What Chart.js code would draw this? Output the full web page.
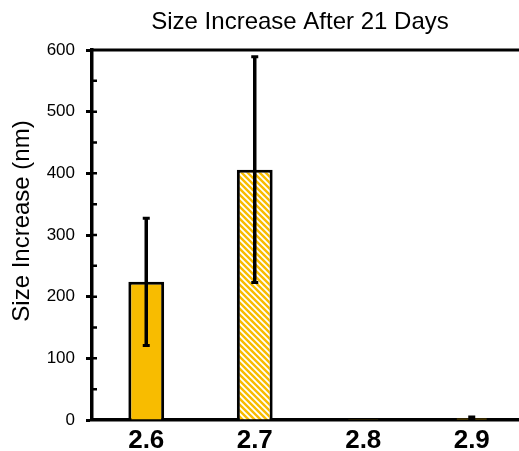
<!DOCTYPE html>
<html>
<head>
<meta charset="utf-8">
<style>
  html, body { margin: 0; padding: 0; background: #fff; overflow: hidden; }
  #wrap { width: 519px; height: 451px; overflow: hidden; }
  canvas { display: block; }
</style>
<script src="https://cdn.jsdelivr.net/npm/chart.js@4"></script>
</head>
<body>
<div id="wrap"><canvas id="c" width="527" height="451"></canvas></div>
<script>
const chartTitle = 'Size Increase After 21 Days';
const yAxisTitle = 'Size Increase (nm)';
const categories = ['2.6', '2.7', '2.8', '2.9'];
const sizeIncrease = [224, 406, 2, 3];
const sizeError = [103, 183, 0, 2];
const yTickLabels = ['0', '100', '200', '300', '400', '500', '600'];

const FONT = '"Liberation Sans", Arial, Helvetica, sans-serif';
const GOLD = '#F8BC00';

const canvas = document.getElementById('c');
const ctx = canvas.getContext('2d');

// diagonal white stripes on gold for the hatched bar
function hatchPattern(base) {
  const s = 6;
  const t = document.createElement('canvas');
  t.width = s; t.height = s;
  const g = t.getContext('2d');
  g.fillStyle = base;
  g.fillRect(0, 0, s, s);
  g.strokeStyle = '#fff';
  g.lineWidth = 1.8;
  g.beginPath();
  g.moveTo(-1, -1); g.lineTo(s + 1, s + 1);
  g.moveTo(-1, s - 1); g.lineTo(1, s + 1);
  g.moveTo(s - 1, -1); g.lineTo(s + 1, 1);
  g.stroke();
  return ctx.createPattern(t, 'repeat');
}

const barFills = [GOLD, hatchPattern(GOLD), GOLD, GOLD];

// mean ± error whiskers with short caps
const errorBars = {
  id: 'errorBars',
  afterDatasetsDraw(chart) {
    const c = chart.ctx;
    const y = chart.scales.y;
    const meta = chart.getDatasetMeta(0);
    c.save();
    c.strokeStyle = '#000';
    c.lineCap = 'butt';
    sizeIncrease.forEach((v, i) => {
      const e = sizeError[i];
      if (!e) return;
      const px = meta.data[i].x;
      const top = y.getPixelForValue(v + e);
      const bot = y.getPixelForValue(Math.max(v - e, 0));
      c.lineWidth = 3.5;
      c.beginPath();
      c.moveTo(px, top); c.lineTo(px, bot);
      c.stroke();
      c.lineWidth = 3;
      c.beginPath();
      c.moveTo(px - 3.5, top); c.lineTo(px + 3.5, top);
      c.moveTo(px - 3.5, bot); c.lineTo(px + 3.5, bot);
      c.stroke();
    });
    c.restore();
  }
};

// top frame line, inner minor ticks and the two titles
const frameAndTitles = {
  id: 'frameAndTitles',
  afterDraw(chart) {
    const c = chart.ctx;
    const a = chart.chartArea;
    const y = chart.scales.y;
    c.save();
    c.strokeStyle = '#000';
    c.lineWidth = 3;
    c.beginPath();
    c.moveTo(a.left - 1.75, a.top);
    c.lineTo(chart.width, a.top);
    c.stroke();

    c.lineWidth = 2.5;
    c.beginPath();
    for (let v = 50; v < 600; v += 50) {
      const py = y.getPixelForValue(v);
      c.moveTo(a.left, py);
      c.lineTo(a.left + 5, py);
    }
    c.stroke();

    c.fillStyle = '#000';
    c.textAlign = 'center';
    c.font = '24px ' + FONT;
    c.textBaseline = 'alphabetic';
    c.fillText(chartTitle, a.left + 208, 28.5);

    c.translate(22.5, (a.top + a.bottom) / 2 - 14);
    c.rotate(-Math.PI / 2);
    c.font = '24px ' + FONT;
    c.textBaseline = 'middle';
    c.fillText(yAxisTitle, 0, 0);
    c.restore();
  }
};

new Chart(canvas, {
  type: 'bar',
  data: {
    labels: categories,
    datasets: [{
      data: sizeIncrease,
      backgroundColor: barFills,
      borderColor: '#000',
      borderWidth: 3,
      borderSkipped: 'start',
      barPercentage: 0.33,
      categoryPercentage: 1
    }]
  },
  options: {
    responsive: false,
    animation: false,
    devicePixelRatio: 1,
    layout: { padding: { top: 50, right: 1, left: 0, bottom: 0 } },
    plugins: {
      legend: { display: false },
      title: { display: false },
      tooltip: { enabled: false }
    },
    scales: {
      x: {
        grid: { display: false, drawTicks: false, tickLength: 0 },
        border: { display: true, color: '#000', width: 3.5 },
        ticks: { color: '#000', padding: 5, font: { family: FONT, size: 26, weight: 'bold' } },
        afterFit(s) { s.height = 31; }
      },
      y: {
        min: 0,
        max: 600,
        ticks: {
          stepSize: 100,
          color: '#000',
          padding: 11,
          font: { family: FONT, size: 17 },
          callback: (v, i) => yTickLabels[i]
        },
        grid: { drawOnChartArea: false, drawTicks: true, tickLength: 6, tickWidth: 3, color: '#000' },
        border: { display: true, color: '#000', width: 3.5 },
        afterFit(s) { s.width = 92; }
      }
    }
  },
  plugins: [errorBars, frameAndTitles]
});
</script>
</body>
</html>
